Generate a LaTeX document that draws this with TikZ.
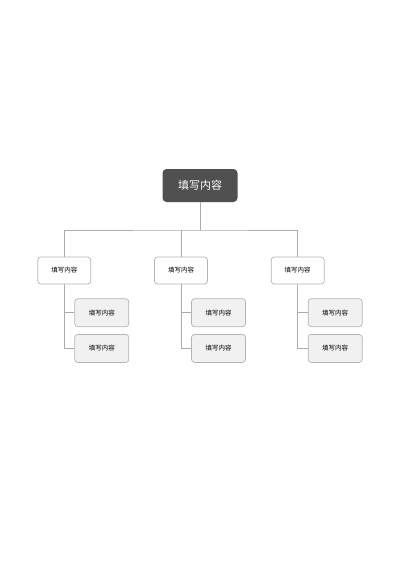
\documentclass[tikz,border=0pt]{standalone}
\usepackage{fontspec}
\setmainfont{Noto Sans CJK SC}
\usetikzlibrary{positioning}
\definecolor{topfill}{HTML}{505050}
\definecolor{boxline}{HTML}{B4B4B4}
\definecolor{subfill}{HTML}{F1F1F1}
\definecolor{wire}{HTML}{ABABAB}
\tikzset{
  topbox/.style={rectangle, rounded corners=4pt, fill=topfill, text=white,
    minimum width=75pt, minimum height=33pt, font=\fontsize{11}{13}\selectfont, inner sep=0pt},
  lvlbox/.style={rectangle, rounded corners=3pt, draw=boxline, line width=0.7pt, fill=white,
    minimum width=53pt, minimum height=27pt, font=\fontsize{6.5}{8}\selectfont, inner sep=0pt},
  subbox/.style={lvlbox, fill=subfill, minimum width=54pt, minimum height=28pt},
  wireline/.style={draw=wire, line width=0.7pt}
}
\begin{document}
\begin{tikzpicture}[x=1pt, y=-1pt]
  \useasboundingbox (0,0) rectangle (400,566);

  % Nodes
  \node (T) [topbox] at (200,185.5) {填写内容};
  \node (B) [lvlbox] at (181,270.5) {填写内容};
  \node (A) [left=63pt of B, lvlbox] {填写内容};
  \node (C) [right=63pt of B, lvlbox] {填写内容};
  \node (A1) [below=14pt of A, xshift=37.5pt, subbox] {填写内容};
  \node (A2) [below=7pt of A1, subbox] {填写内容};
  \node (B1) [below=14pt of B, xshift=37.5pt, subbox] {填写内容};
  \node (B2) [below=7pt of B1, subbox] {填写内容};
  \node (C1) [below=14pt of C, xshift=37.5pt, subbox] {填写内容};
  \node (C2) [below=7pt of C1, subbox] {填写内容};
  \coordinate (bus) at (200,230);

  % Edges
  \draw[wireline] (T) -- (bus);
  \draw[wireline] (A) |- (bus) -| (C);
  \draw[wireline] (B) -- (B |- bus);
  \draw[wireline] (A) |- (A1);
  \draw[wireline] (A) |- (A2);
  \draw[wireline] (B) |- (B1);
  \draw[wireline] (B) |- (B2);
  \draw[wireline] (C) |- (C1);
  \draw[wireline] (C) |- (C2);
\end{tikzpicture}
\end{document}
